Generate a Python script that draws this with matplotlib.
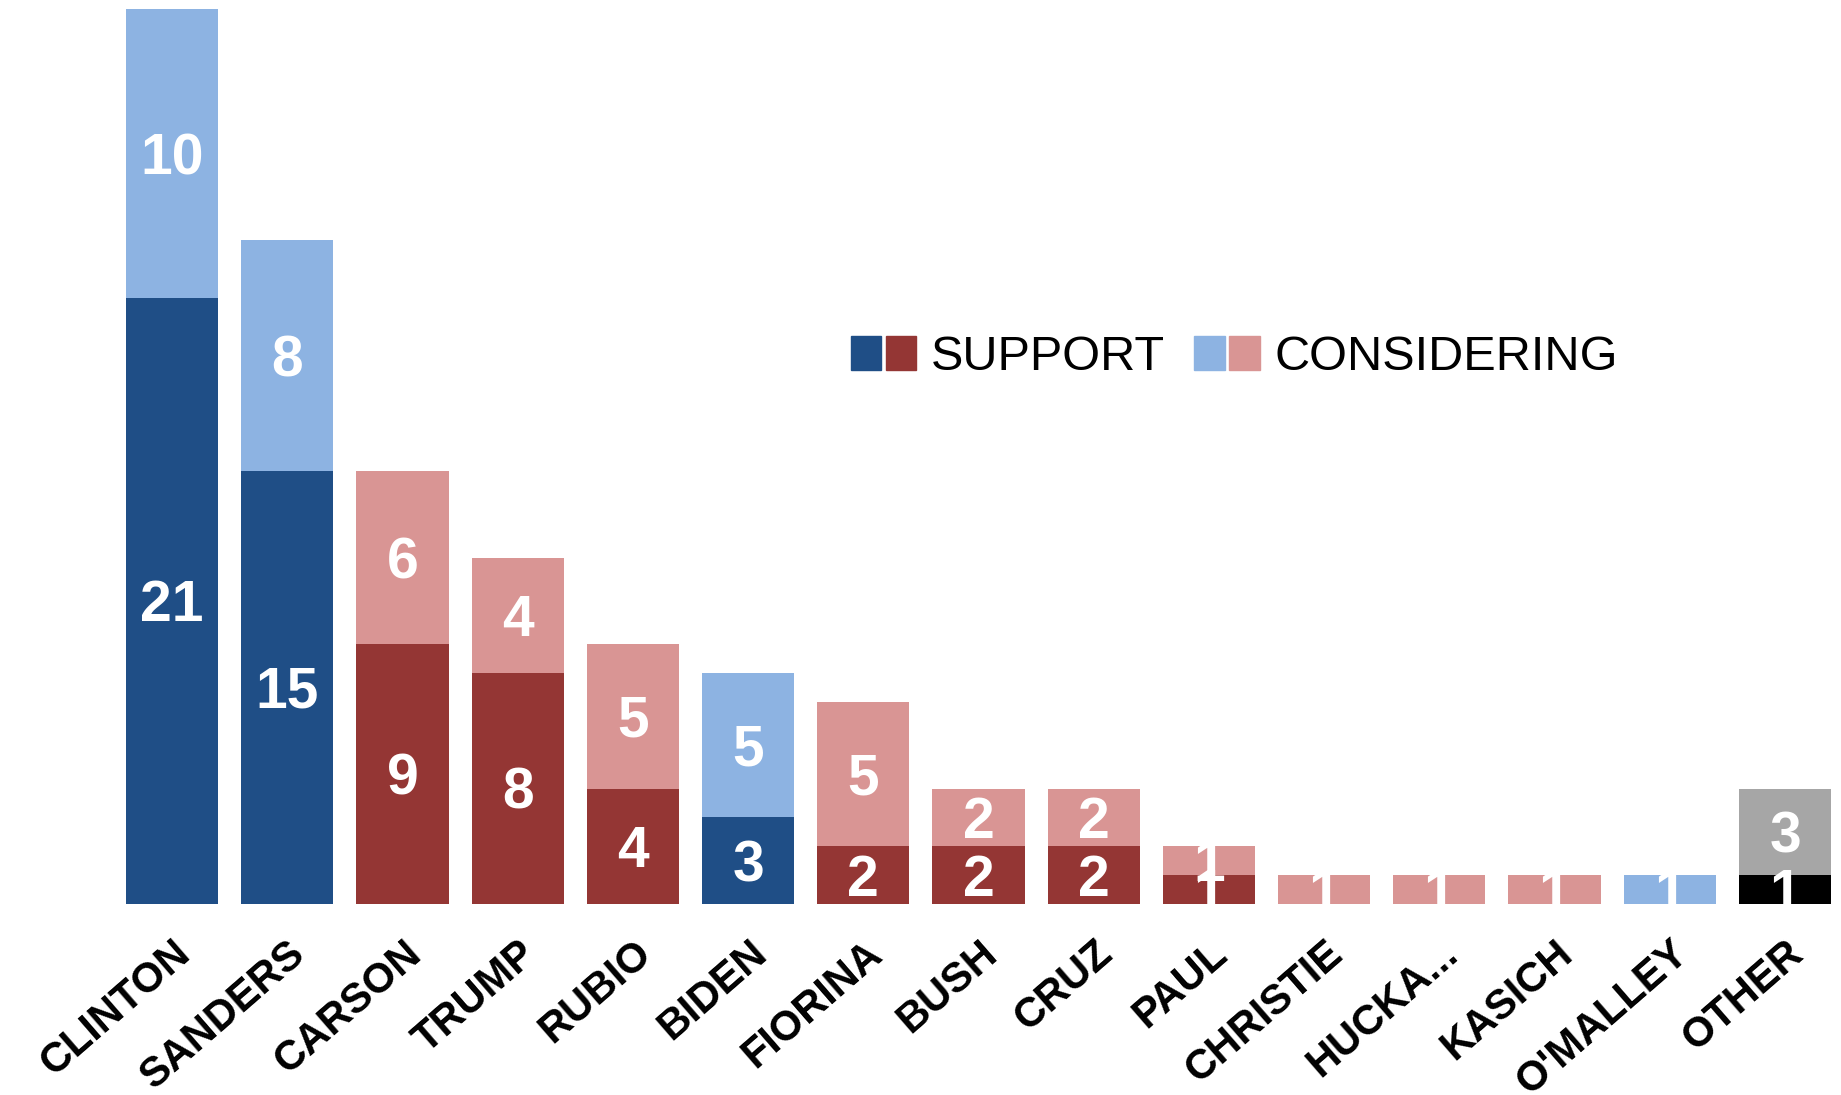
import matplotlib
matplotlib.use("Agg")
import matplotlib.pyplot as plt
import matplotlib.transforms as mtransforms
from matplotlib.patches import Patch
from matplotlib.legend_handler import HandlerTuple

plt.rcParams['font.family'] = ['Liberation Sans', 'DejaVu Sans']

candidates = ['CLINTON', 'SANDERS', 'CARSON', 'TRUMP', 'RUBIO', 'BIDEN',
              'FIORINA', 'BUSH', 'CRUZ', 'PAUL', 'CHRISTIE', 'HUCKA...',
              'KASICH', "O'MALLEY", 'OTHER']
support = [21, 15, 9, 8, 4, 3, 2, 2, 2, 1, 0, 0, 0, 0, 1]
considering = [10, 8, 6, 4, 5, 5, 5, 2, 2, 1, 1, 1, 1, 1, 3]
party = ['D', 'D', 'R', 'R', 'R', 'D', 'R', 'R', 'R', 'R', 'R', 'R', 'R', 'D', 'O']

# dark shade for support, light shade for considering
dark = {'D': '#1f4e86', 'R': '#943634', 'O': '#000000'}
light = {'D': '#8db3e2', 'R': '#d99594', 'O': '#a6a6a6'}

fig = plt.figure(figsize=(18.41, 10.95), dpi=100)
ax = fig.add_axes([0.0684, 0.1744, 0.9262, 0.8170])

x = list(range(len(candidates)))
sup_colors = [dark[p] for p in party]
con_colors = [light[p] for p in party]

bars_s = ax.bar(x, support, width=0.8, color=sup_colors)
bars_c = ax.bar(x, considering, width=0.8, bottom=support, color=con_colors)

# white value labels; baseline set so the digit ink sits centred on the segment
fs = 41
ymax = 31
ax_h_px = 0.8170 * 10.95 * 100
half_cap = 0.716 * fs * 100 / 72 / 2 * ymax / ax_h_px
lbl_kw = dict(color='white', fontsize=fs, fontweight='bold',
              ha='center', va='baseline')
for rect, v in zip(bars_s, support):
    if v > 0:
        ax.text(rect.get_x() + rect.get_width() / 2,
                rect.get_y() + v / 2 - half_cap, str(v), **lbl_kw)
for rect, v in zip(bars_c, considering):
    ax.text(rect.get_x() + rect.get_width() / 2,
            rect.get_y() + v / 2 - half_cap, str(v), **lbl_kw)

ax.set_xlim(-0.4, len(candidates) - 0.6)
ax.set_ylim(0, ymax)
ax.set_xticks(x)
ax.set_xticklabels(candidates, rotation=41, ha='right', va='top',
                   rotation_mode='anchor', fontsize=30, fontweight='bold')
shift = mtransforms.ScaledTranslation(-0.08, 0, fig.dpi_scale_trans)
for lab in ax.get_xticklabels():
    lab.set_transform(lab.get_transform() + shift)
ax.tick_params(axis='x', length=0, pad=21)
ax.set_yticks([])
for s in ax.spines.values():
    s.set_visible(False)

handles = [(Patch(color=dark['D']), Patch(color=dark['R'])),
           (Patch(color=light['D']), Patch(color=light['R']))]
ax.legend(handles, ['SUPPORT', 'CONSIDERING'],
          handler_map={tuple: HandlerTuple(ndivide=None, pad=0.1)},
          loc='center', bbox_to_anchor=(0.65, 0.611), ncol=2,
          frameon=False, fontsize=35, handlelength=1.35, handleheight=0.7,
          handletextpad=0.3, columnspacing=0.6)

fig.savefig('out.png', dpi=100)
